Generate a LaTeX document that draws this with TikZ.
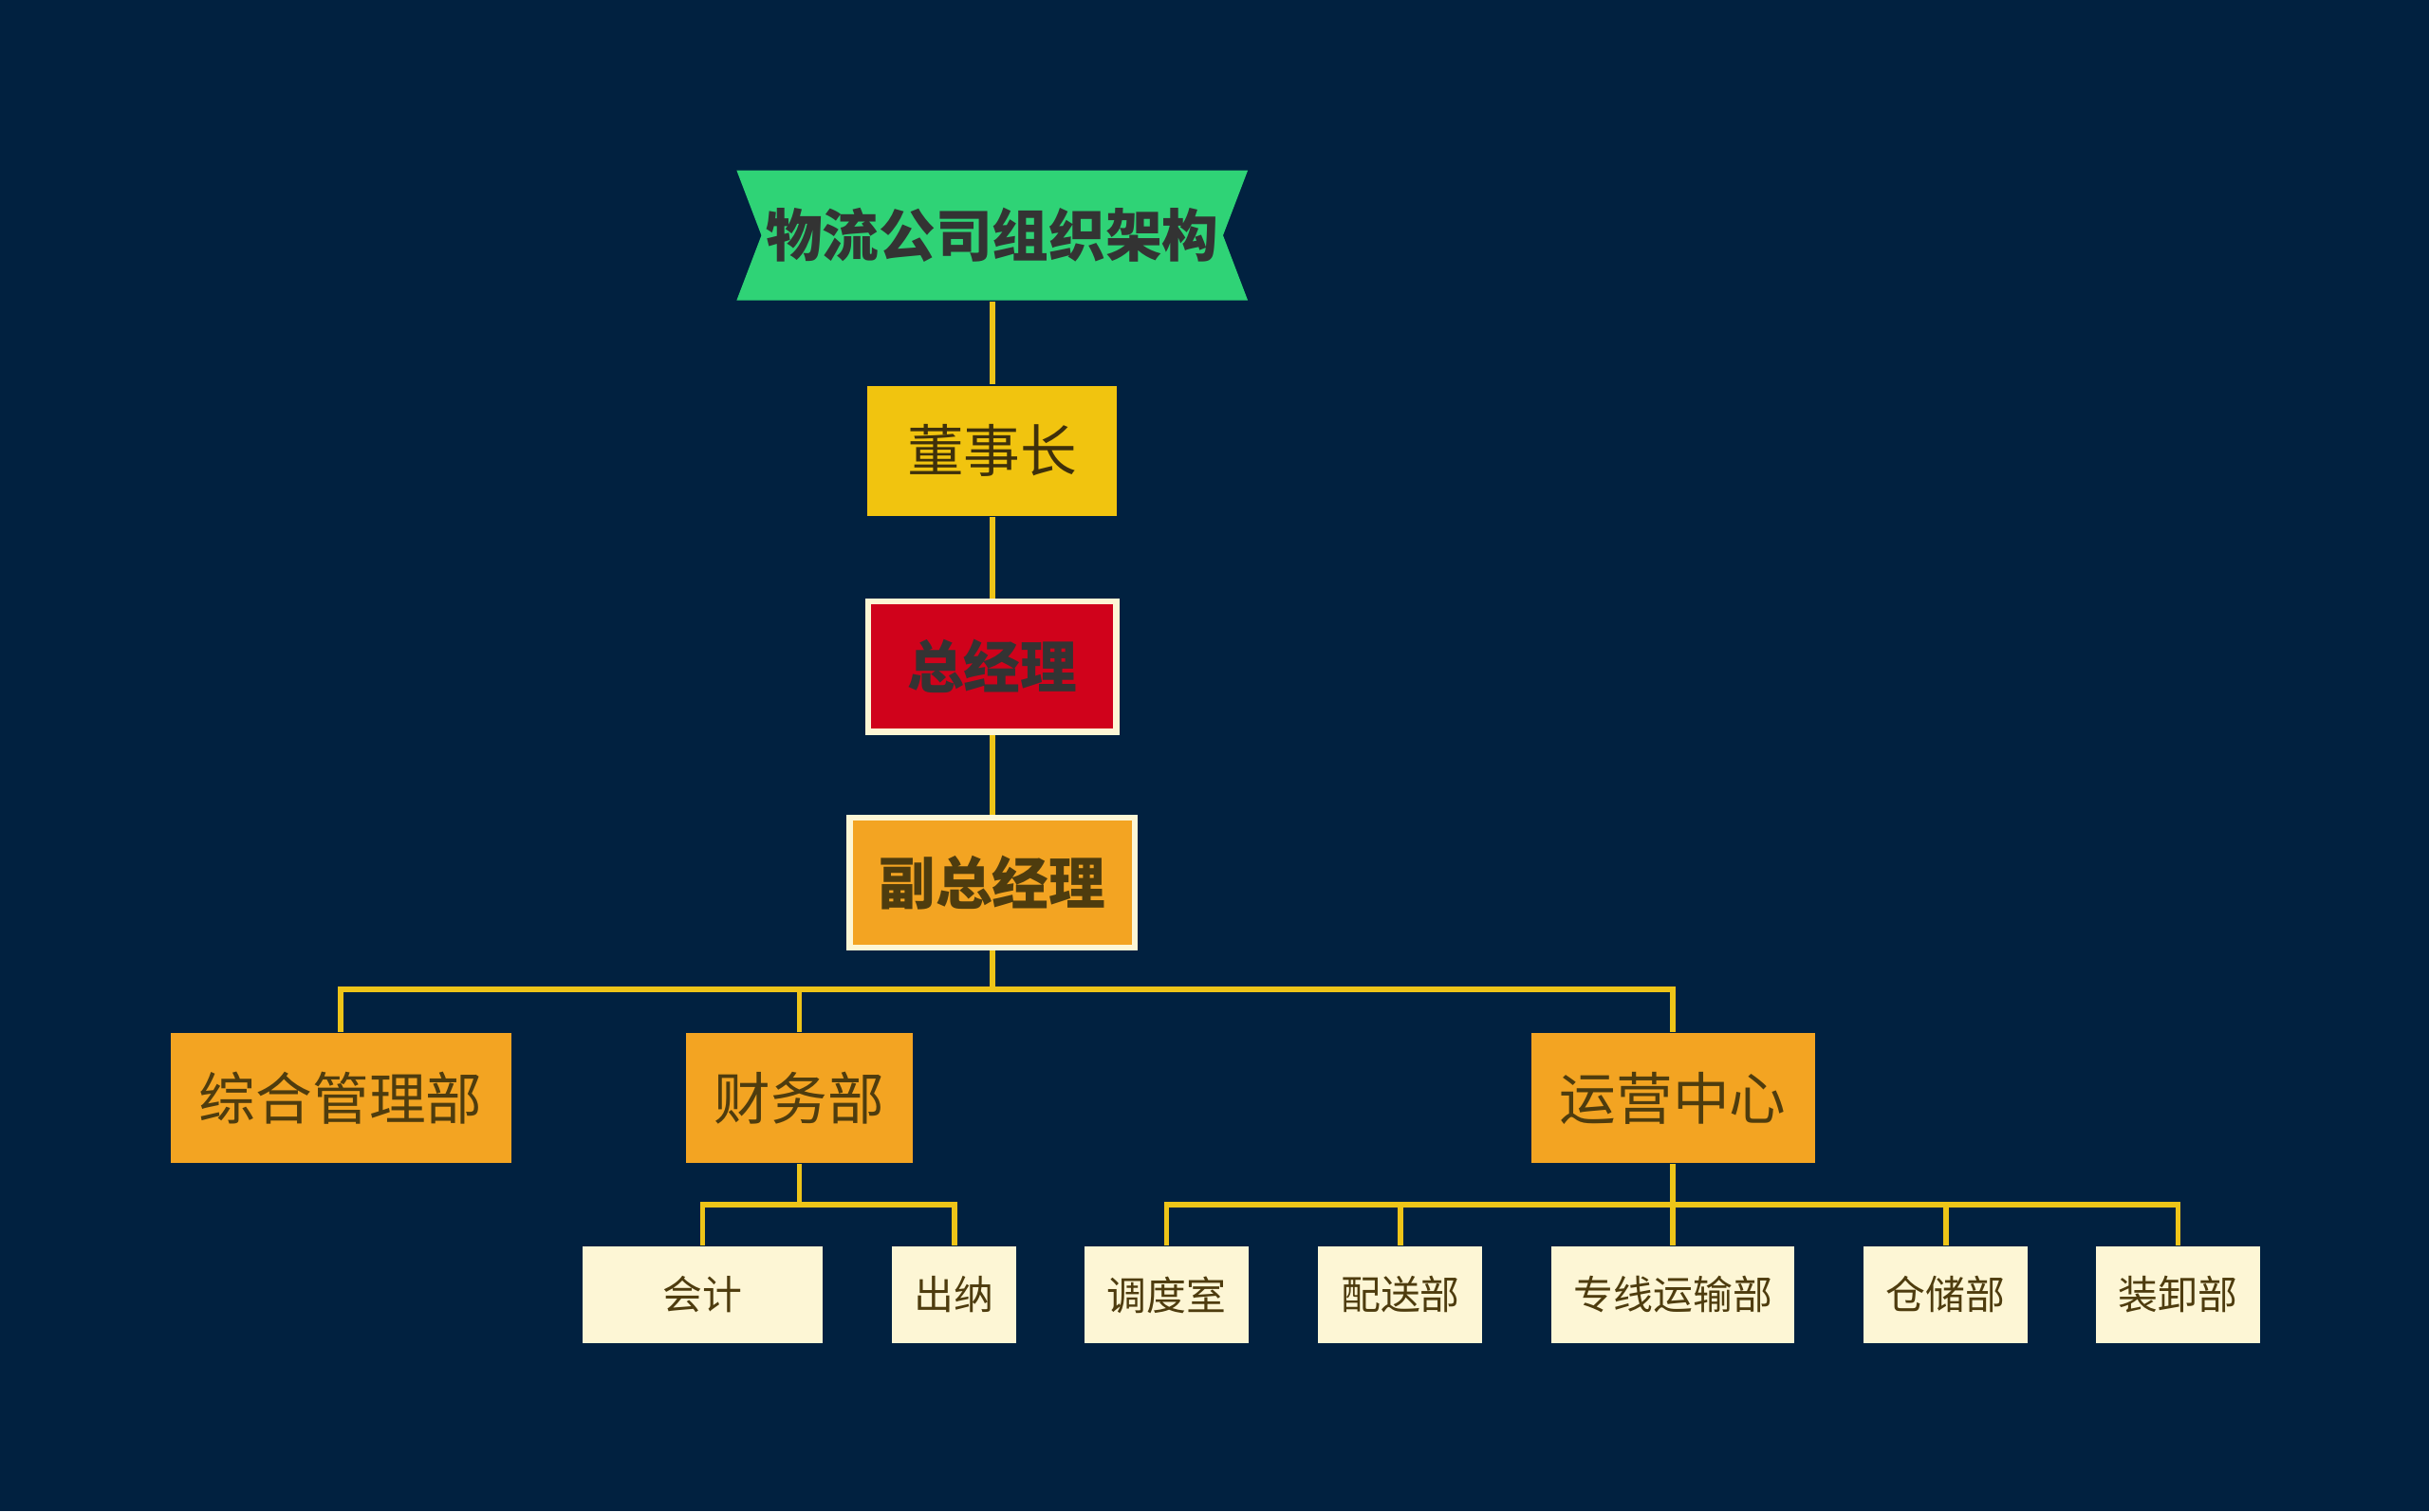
\documentclass[tikz,border=0pt]{standalone}
\usepackage{fontspec}
\newfontfamily\cjk{Noto Sans CJK SC}
\usetikzlibrary{calc}
\definecolor{figbg}{RGB}{1,33,64}
\definecolor{figline}{RGB}{238,196,24}
\definecolor{figgreen}{RGB}{47,211,118}
\definecolor{figyellow}{RGB}{241,196,15}
\definecolor{figred}{RGB}{208,2,27}
\definecolor{figorange}{RGB}{243,164,34}
\definecolor{figcream}{RGB}{253,246,213}
\definecolor{figtext}{RGB}{51,51,51}
\definecolor{figbrown}{RGB}{78,60,14}
\tikzset{
  lnk/.style  ={draw=figline, line width=1pt},
  box/.style  ={inner sep=0pt, minimum height=0.84cm, text=figbrown, font=\cjk\fontsize{10.4}{12}\selectfont},
  boxb/.style ={box, font=\cjk\bfseries\fontsize{10.4}{12}\selectfont},
  leaf/.style ={inner sep=0pt, minimum height=0.62cm, fill=figcream, text=figbrown, font=\cjk\fontsize{7.3}{9}\selectfont},
}
\begin{document}
\begin{tikzpicture}
  \fill[figbg] (0,0) rectangle (15.68,9.76);
  % title banner
  \fill[figgreen] (4.755,8.66) -- (8.055,8.66) -- (7.895,8.24) -- (8.055,7.82) -- (4.755,7.82) -- (4.915,8.24) -- cycle;
  \node[boxb,text=figtext,minimum width=3.30cm] (title) at (6.405,8.24) {物流公司组织架构};
  % top chain
  \node[box,fill=figyellow,text=figbrown!80!black,minimum width=1.61cm] (chair) at (6.405,6.85) {董事长};
  \node[boxb,fill=figred,text=figtext,draw=figcream,line width=1.1pt,minimum width=1.60cm,minimum height=0.84cm] (gm) at (6.405,5.455) {总经理};
  \node[boxb,fill=figorange,draw=figcream,line width=1.1pt,minimum width=1.84cm] (vgm) at (6.405,4.06) {副总经理};
  % departments
  \node[box,fill=figorange,minimum width=2.20cm] (admin) at (2.20,2.67) {综合管理部};
  \node[box,fill=figorange,minimum width=1.46cm] (fin) at (5.16,2.67) {财务部};
  \node[box,fill=figorange,minimum width=1.83cm] (ops) at (10.80,2.67) {运营中心};
  % leaves
  \node[leaf,minimum width=1.55cm] (acct) at (4.535,1.40) {会计};
  \node[leaf,minimum width=0.80cm] (cash) at (6.16,1.40) {出纳};
  \node[leaf,minimum width=1.06cm] (disp) at (7.53,1.40) {调度室};
  \node[leaf,minimum width=1.06cm] (deliv) at (9.04,1.40) {配送部};
  \node[leaf,minimum width=1.57cm] (line) at (10.80,1.40) {专线运输部};
  \node[leaf,minimum width=1.06cm] (store) at (12.56,1.40) {仓储部};
  \node[leaf,minimum width=1.06cm] (load) at (14.06,1.40) {装卸部};
  % connectors
  \coordinate (busA) at (6.405,3.37);
  \coordinate (busB) at (5.16,1.98);
  \coordinate (busC) at (10.80,1.98);
  \draw[lnk] (title.south) -- (chair.north);
  \draw[lnk] (chair.south) -- (gm.north);
  \draw[lnk] (gm.south) -- (vgm.north);
  \draw[lnk] (vgm.south) -- (busA);
  \draw[lnk] (busA) -| (admin.north);
  \draw[lnk] (busA) -| (fin.north);
  \draw[lnk] (busA) -| (ops.north);
  \draw[lnk] (fin.south) -- (busB);
  \draw[lnk] (busB) -| (acct.north);
  \draw[lnk] (busB) -| (cash.north);
  \draw[lnk] (ops.south) -- (busC);
  \draw[lnk] (busC) -| (disp.north);
  \draw[lnk] (busC) -| (deliv.north);
  \draw[lnk] (busC) -- (line.north);
  \draw[lnk] (busC) -| (store.north);
  \draw[lnk] (busC) -| (load.north);
\end{tikzpicture}
\end{document}
